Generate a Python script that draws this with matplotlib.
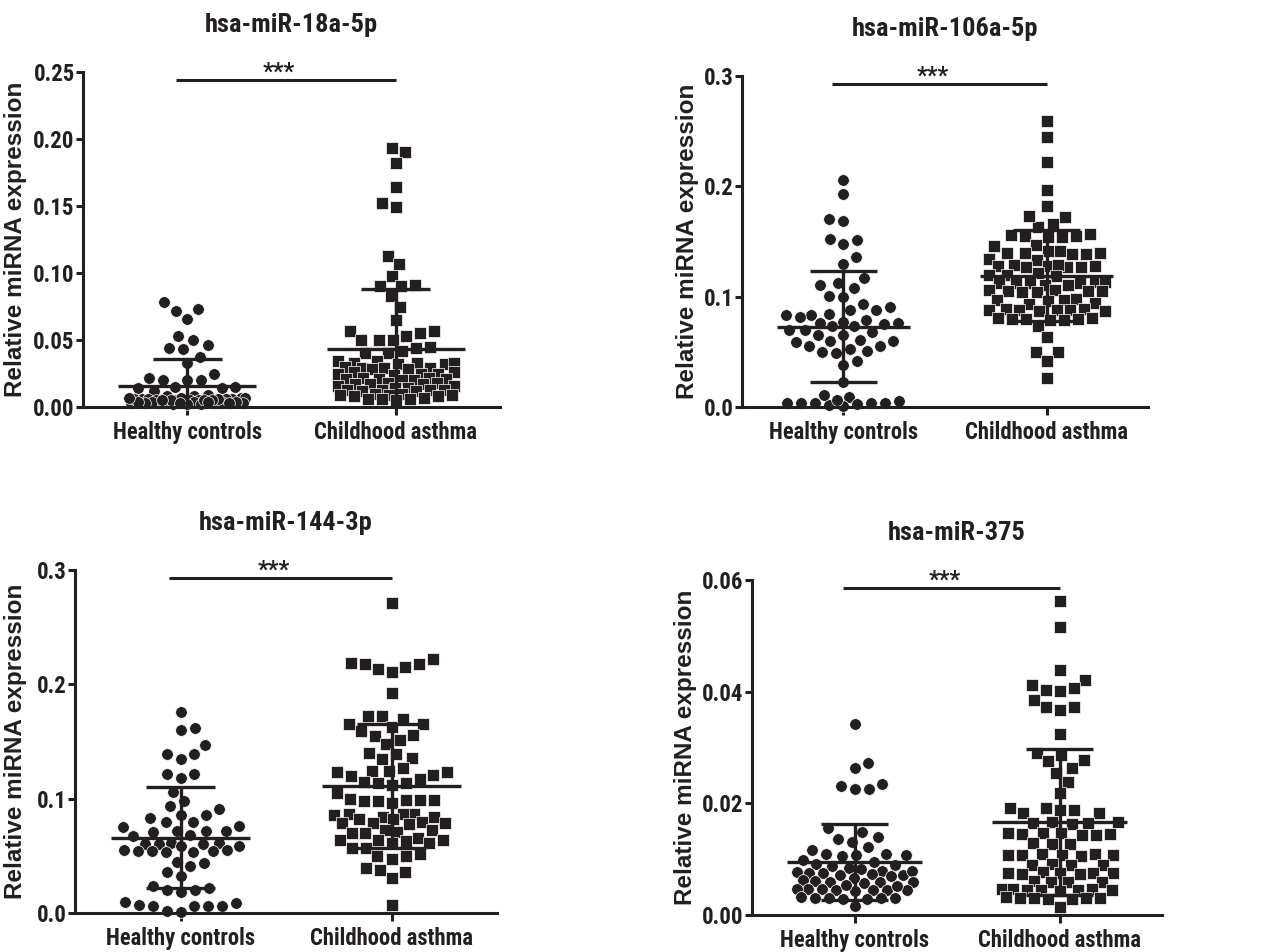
import os
import numpy as np
import matplotlib
matplotlib.use("Agg")
import matplotlib.pyplot as plt
from matplotlib import font_manager
from matplotlib.font_manager import FontProperties

# ---- data (relative miRNA expression) ----
groups = ["Healthy controls", "Childhood asthma"]

mir18_healthy = [0.078, 0.072, 0.073, 0.066, 0.050, 0.053, 0.046, 0.044, 0.043, 0.033,
                 0.037, 0.022, 0.020, 0.020, 0.020, 0.025, 0.012, 0.014, 0.015, 0.014,
                 0.015, 0.009,
                 0.008, 0.007, 0.006, 0.005, 0.004, 0.003, 0.006, 0.005, 0.004, 0.007,
                 0.003, 0.002, 0.005, 0.006, 0.004, 0.003, 0.008, 0.005, 0.004, 0.006,
                 0.003, 0.002, 0.005, 0.007, 0.004, 0.003, 0.006, 0.005, 0.004, 0.003,
                 0.002, 0.005, 0.006, 0.004, 0.003, 0.007, 0.005, 0.004]
mir18_asthma = [0.193, 0.190, 0.182, 0.164, 0.152, 0.149, 0.113, 0.107, 0.098, 0.090,
                0.090, 0.091, 0.083, 0.075, 0.065, 0.057, 0.057, 0.055, 0.050, 0.050,
                0.053, 0.050, 0.044, 0.042, 0.040, 0.040, 0.045,
                0.034, 0.033, 0.033, 0.032, 0.034, 0.033, 0.032,
                0.029, 0.030, 0.028, 0.029, 0.029, 0.028,
                0.025, 0.026, 0.024, 0.025, 0.025, 0.026,
                0.021, 0.022, 0.020, 0.021, 0.021, 0.020, 0.022,
                0.017, 0.018, 0.016, 0.017, 0.017, 0.016, 0.018,
                0.013, 0.014, 0.012, 0.013, 0.013, 0.012, 0.014, 0.013,
                0.009, 0.010, 0.008, 0.009, 0.009, 0.010, 0.008,
                0.006, 0.007, 0.005, 0.006, 0.006]

mir106_healthy = [0.206, 0.193, 0.169, 0.170, 0.151, 0.148, 0.152, 0.136, 0.130, 0.117,
                  0.111, 0.112, 0.108, 0.101, 0.100, 0.093, 0.091, 0.088, 0.088, 0.083,
                  0.083, 0.082, 0.084, 0.079, 0.077, 0.076, 0.075, 0.076, 0.073, 0.073,
                  0.068, 0.070, 0.070, 0.065, 0.065, 0.061, 0.060, 0.059, 0.060, 0.055,
                  0.055, 0.053, 0.051, 0.050, 0.049, 0.042, 0.038, 0.023,
                  0.004, 0.004, 0.009, 0.003, 0.005, 0.001, 0.004, 0.002, 0.006, 0.004,
                  0.011, 0.004]
mir106_asthma = [0.259, 0.245, 0.222, 0.197, 0.182, 0.163, 0.173, 0.172, 0.166,
                 0.156, 0.155, 0.154, 0.157, 0.155, 0.154,
                 0.147, 0.146,
                 0.141, 0.140, 0.139, 0.140, 0.141, 0.139, 0.140,
                 0.133, 0.134,
                 0.128, 0.127, 0.129, 0.128, 0.127, 0.128, 0.129, 0.127,
                 0.120, 0.121, 0.119, 0.120,
                 0.112, 0.113, 0.111, 0.112, 0.112, 0.113, 0.111, 0.112,
                 0.105, 0.104, 0.106, 0.105, 0.105, 0.104, 0.106,
                 0.097, 0.098, 0.096, 0.097,
                 0.093, 0.094,
                 0.088, 0.087, 0.089, 0.088, 0.087, 0.088, 0.089, 0.088,
                 0.080, 0.081, 0.079, 0.080, 0.080, 0.081, 0.079,
                 0.073, 0.063, 0.050, 0.050, 0.042, 0.026]

mir144_healthy = [0.176, 0.162, 0.160, 0.147, 0.139, 0.135, 0.139, 0.122, 0.118, 0.122,
                  0.106, 0.094, 0.098, 0.091, 0.086, 0.086, 0.083, 0.080, 0.080, 0.075,
                  0.076, 0.072, 0.071, 0.072, 0.072, 0.068, 0.067,
                  0.061, 0.060, 0.059, 0.060, 0.061, 0.059, 0.060,
                  0.055, 0.054, 0.053, 0.054, 0.055, 0.054, 0.053,
                  0.036, 0.045, 0.041, 0.044, 0.032,
                  0.024, 0.022, 0.020, 0.020, 0.018,
                  0.007, 0.006, 0.006, 0.010, 0.001, 0.009, 0.002, 0.006, 0.006]
mir144_asthma = [0.271,
                 0.219, 0.218, 0.213, 0.211, 0.215, 0.218, 0.222,
                 0.192, 0.172, 0.172,
                 0.165, 0.163, 0.165, 0.170,
                 0.156, 0.155, 0.159, 0.148, 0.151,
                 0.140, 0.136, 0.135, 0.139,
                 0.124, 0.120, 0.123, 0.127, 0.121, 0.123, 0.124,
                 0.114, 0.115, 0.117, 0.114, 0.112, 0.105,
                 0.100, 0.099, 0.096, 0.098, 0.098, 0.099, 0.099,
                 0.087, 0.084, 0.086, 0.087, 0.084, 0.087,
                 0.079, 0.082, 0.080, 0.079, 0.082, 0.079, 0.078,
                 0.070, 0.071, 0.073, 0.070, 0.073,
                 0.064, 0.061, 0.063, 0.066, 0.061, 0.064, 0.064,
                 0.052, 0.057, 0.057, 0.050, 0.050, 0.047,
                 0.039, 0.036, 0.038, 0.031, 0.007]

mir375_healthy = [0.0342, 0.0273, 0.0263, 0.0231, 0.0225, 0.0225, 0.0234,
                  0.0155, 0.0149, 0.0139, 0.0137, 0.0131, 0.0122, 0.0116,
                  0.0110, 0.0107, 0.0106, 0.0107, 0.0109,
                  0.0092, 0.0090, 0.0088, 0.0084,
                  0.0078, 0.0075, 0.0072, 0.0077, 0.0074, 0.0072, 0.0078, 0.0076,
                  0.0061, 0.0060, 0.0058, 0.0062, 0.0060, 0.0059,
                  0.0046, 0.0045, 0.0044, 0.0046, 0.0045, 0.0043, 0.0047, 0.0045,
                  0.0031, 0.0030, 0.0029, 0.0032, 0.0030, 0.0029, 0.0031,
                  0.0016, 0.0098, 0.0083, 0.0069, 0.0066, 0.0054, 0.0052, 0.0095]
mir375_asthma = [0.0563, 0.0515, 0.0439, 0.0421, 0.0402, 0.0406, 0.0403, 0.0412, 0.0385,
                 0.0372, 0.0367, 0.0372, 0.0324, 0.0290, 0.0287, 0.0278, 0.0263, 0.0275,
                 0.0254, 0.0239, 0.0218,
                 0.0188, 0.0182, 0.0192, 0.0188, 0.0192, 0.0182,
                 0.0166, 0.0164, 0.0167, 0.0165, 0.0163,
                 0.0146, 0.0144, 0.0145, 0.0147, 0.0143, 0.0146, 0.0145,
                 0.0128, 0.0127, 0.0129,
                 0.0108, 0.0107, 0.0109, 0.0108, 0.0110, 0.0106, 0.0108,
                 0.0090, 0.0091, 0.0089, 0.0090,
                 0.0075, 0.0076, 0.0074, 0.0075, 0.0077, 0.0073, 0.0075,
                 0.0060, 0.0061, 0.0059, 0.0060,
                 0.0045, 0.0046, 0.0044, 0.0045, 0.0047, 0.0043, 0.0045, 0.0046,
                 0.0030, 0.0031, 0.0029, 0.0030, 0.0032, 0.0028, 0.0030, 0.0015]

titles = ["hsa-miR-18a-5p", "hsa-miR-106a-5p", "hsa-miR-144-3p", "hsa-miR-375"]
ymax = [0.25, 0.3, 0.3, 0.06]
yticks = [[0.0, 0.05, 0.10, 0.15, 0.20, 0.25], [0.0, 0.1, 0.2, 0.3],
          [0.0, 0.1, 0.2, 0.3], [0.0, 0.02, 0.04, 0.06]]
ytick_fmt = ["{:.2f}", "{:.1f}", "{:.1f}", "{:.2f}"]
panels = [(mir18_healthy, mir18_asthma), (mir106_healthy, mir106_asthma),
          (mir144_healthy, mir144_asthma), (mir375_healthy, mir375_asthma)]

# ---- layout (pixels: left, top, right, bottom) ----
W, H = 1285, 952
boxes = [(83, 72, 500, 407), (742, 76, 1148, 407), (75, 570, 497, 913), (752, 580, 1162, 915)]
ylabel_x = [-0.161, -0.135, -0.14, -0.161]
INK = "#231f20"


def find_narrow_bold():
    """look for an installed narrow/condensed bold sans font file"""
    prefs = ["liberationsansnarrow", "arialnarrow", "robotocondensed", "notosans", "opensans",
             "dejavusans"]
    found = {}
    for f in font_manager.fontManager.ttflist:
        fn = os.path.basename(f.fname).lower().replace("-", "").replace("_", "")
        if not ("narrow" in fn or "condensed" in fn):
            continue
        if "bold" not in fn or any(w in fn for w in ("semibold", "extrabold", "italic", "oblique",
                                                     "semicondensed", "extracondensed")):
            continue
        for p in prefs:
            if fn.startswith(p):
                found.setdefault(p, f.fname)
    for p in prefs:
        if p in found:
            return found[p]
    return None


narrow_file = find_narrow_bold()


def fp(size):
    if narrow_file:
        return FontProperties(fname=narrow_file, size=size)
    return FontProperties(family=["Liberation Sans", "DejaVu Sans"], weight="bold", size=size * 0.84)


def swarm(ax, xc, values, min_px=14.0, half_px=58.0):
    """beeswarm x positions (data units) computed in pixel space"""
    vals = np.asarray(values, float)
    ys = ax.transData.transform(np.column_stack([np.full(len(vals), xc), vals]))[:, 1]
    unit = ax.transData.transform((1, 0))[0] - ax.transData.transform((0, 0))[0]
    cand = np.arange(-half_px, half_px + 0.01, 0.5)
    right_first = cand[np.lexsort((cand < 0, np.abs(cand)))]
    left_first = cand[np.lexsort((cand > 0, np.abs(cand)))]
    px, py = [], []
    offs = np.zeros(len(vals))
    for n, i in enumerate(np.argsort(ys)):
        c = right_first if n % 2 == 0 else left_first
        x = 0.0
        if px:
            ax_ = np.array(px)
            ay_ = np.array(py)
            near = np.abs(ay_ - ys[i]) < min_px
            if near.any():
                d = np.hypot(c[:, None] - ax_[near][None, :], (ay_[near] - ys[i])[None, :]).min(axis=1)
                ok = d >= min_px
                x = c[np.argmax(ok)] if ok.any() else c[np.argmax(d)]
        px.append(x)
        py.append(ys[i])
        offs[i] = x
    return xc + offs / unit


fig = plt.figure(figsize=(W / 100, H / 100), dpi=100)

for p, (l, t, r, b) in enumerate(boxes):
    ax = fig.add_axes([l / W, 1 - b / H, (r - l) / W, (b - t) / H])
    ax.set_xlim(-0.5, 1.5)
    ax.set_ylim(0, ymax[p])
    for s in ("top", "right"):
        ax.spines[s].set_visible(False)
    for s in ("left", "bottom"):
        ax.spines[s].set_linewidth(2.2)
        ax.spines[s].set_color(INK)

    for g, (vals, marker) in enumerate(zip(panels[p], ["o", "s"])):
        xs = swarm(ax, g, vals)
        ax.scatter(xs, vals, s=8.4 ** 2, marker=marker, color=INK,
                   edgecolors="white", linewidths=0.5, zorder=2, clip_on=False)
        m = np.mean(vals)
        sd = np.std(vals, ddof=1)
        kw = dict(color=INK, lw=2.4, zorder=3, solid_capstyle="butt")
        ax.plot([g - 0.33, g + 0.33], [m, m], **kw)
        ax.plot([g - 0.165, g + 0.165], [m + sd, m + sd], **kw)
        ax.plot([g - 0.165, g + 0.165], [m - sd, m - sd], **kw)
        ax.plot([g, g], [m - sd, m + sd], **kw)

    # significance bar
    ax.plot([-0.055, 1.0], [0.976, 0.976], transform=ax.get_xaxis_transform(),
            color=INK, lw=2.2, clip_on=False, solid_capstyle="butt")
    ax.annotate("***", xy=(0.44, 0.976), xycoords=ax.get_xaxis_transform(),
                xytext=(0, 6), textcoords="offset points", ha="center", va="center",
                fontproperties=fp(17), color=INK)

    ax.set_xticks([0, 1])
    ax.set_xticklabels(groups, fontproperties=fp(16.3), color=INK)
    ax.set_yticks(yticks[p])
    ax.set_yticklabels([ytick_fmt[p].format(v) for v in yticks[p]],
                       fontproperties=fp(16.5), color=INK)
    ax.tick_params(axis="y", direction="out", length=5, width=2.2, pad=1, color=INK)
    ax.tick_params(axis="x", direction="out", length=6, width=2.2, pad=4, color=INK)

    ax.set_ylabel("Relative miRNA expression", fontsize=17.5, fontweight="bold",
                  family=["Liberation Sans", "DejaVu Sans"], color=INK, va="center")
    ax.yaxis.set_label_coords(ylabel_x[p], 0.5)
    ax.set_title(titles[p], fontproperties=fp(19), color=INK, pad=29)

fig.savefig("out.png", dpi=100, facecolor="white")
